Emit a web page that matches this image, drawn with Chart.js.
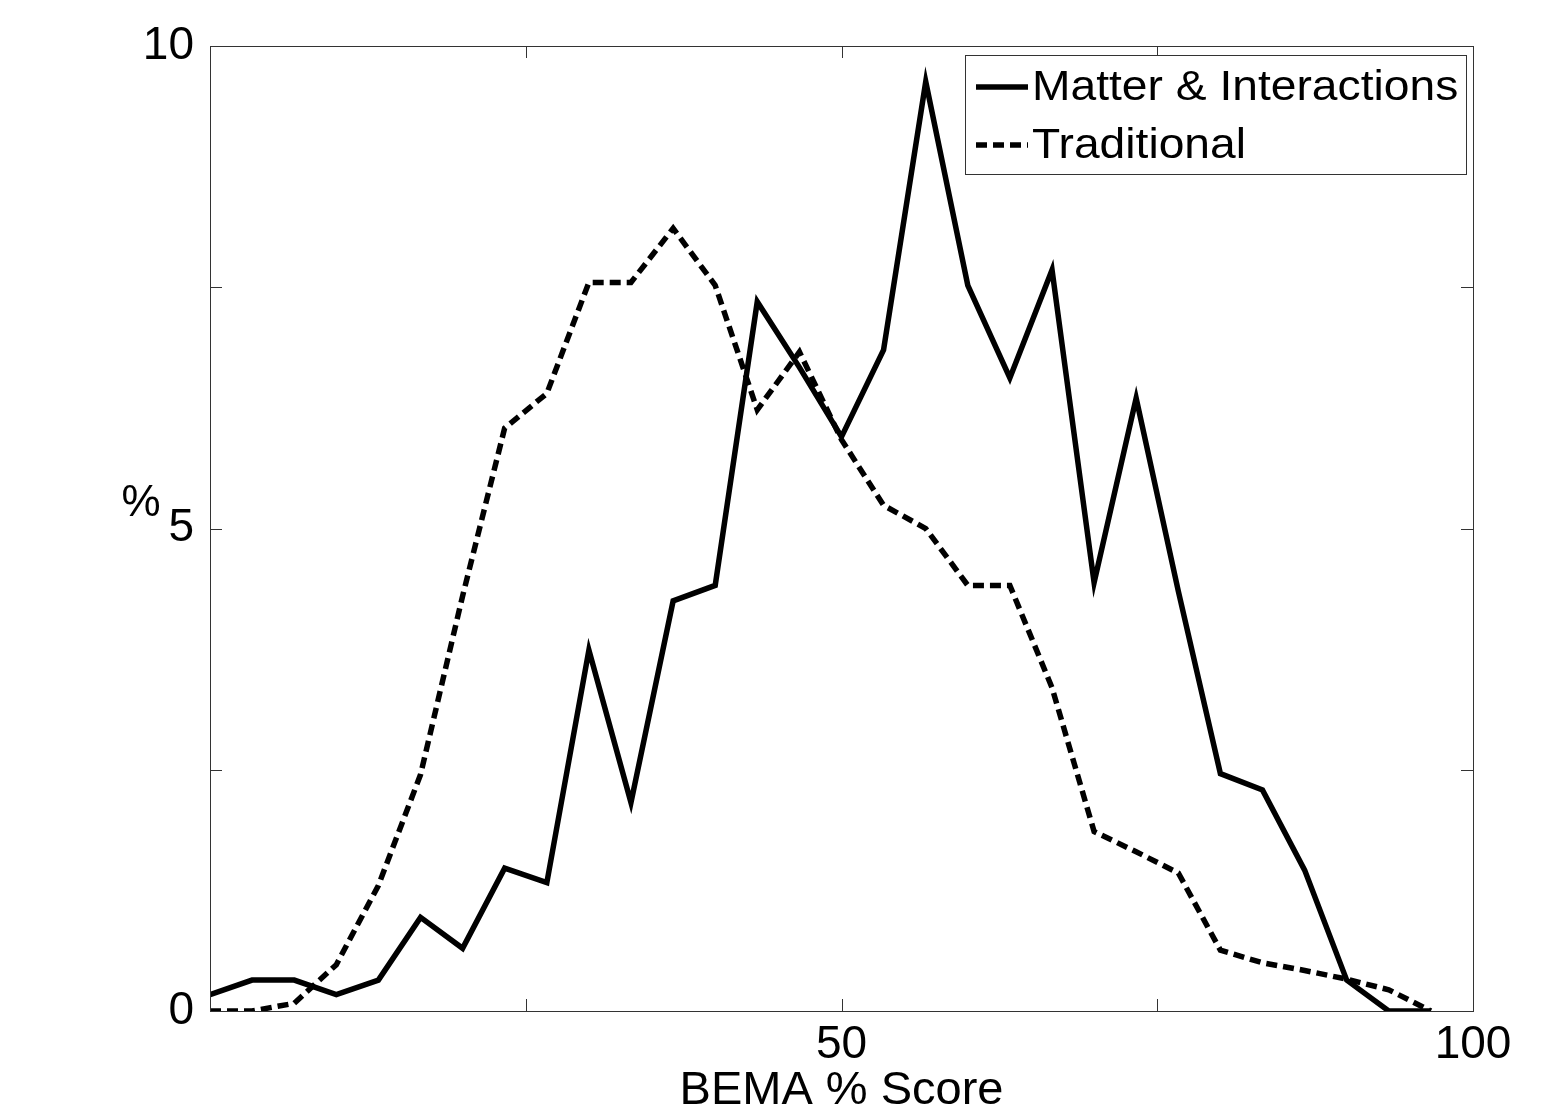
<!DOCTYPE html>
<html>
<head>
<meta charset="utf-8">
<script src="https://cdn.jsdelivr.net/npm/chart.js@4.4.1/dist/chart.umd.min.js"></script>
<style>
  html, body { margin: 0; padding: 0; background: #fff; }
  #wrap { width: 1567px; height: 1107px; }
</style>
</head>
<body>
<div id="wrap"><canvas id="c" width="1567" height="1107"></canvas></div>
<script>
// BEMA score bins (k/30 * 100)
const scores = [0, 3.33, 6.67, 10, 13.33, 16.67, 20, 23.33, 26.67, 30, 33.33, 36.67, 40, 43.33, 46.67,
  50, 53.33, 56.67, 60, 63.33, 66.67, 70, 73.33, 76.67, 80, 83.33, 86.67, 90, 93.33, 96.67];
const matter = [0.17, 0.32, 0.32, 0.17, 0.32, 0.97, 0.65, 1.48, 1.33, 3.74, 2.16, 4.25, 4.41, 7.35, 6.67,
  5.95, 6.85, 9.63, 7.52, 6.56, 7.68, 4.44, 6.35, 4.35, 2.46, 2.29, 1.46, 0.32, 0, 0];
const traditional = [0, 0, 0.08, 0.48, 1.3, 2.45, 4.3, 6.04, 6.4, 7.55, 7.55, 8.11, 7.52, 6.23, 6.83,
  5.92, 5.24, 5.0, 4.41, 4.41, 3.35, 1.86, 1.65, 1.43, 0.63, 0.5, 0.42, 0.33, 0.22, 0];
const seriesNames = ['Matter & Interactions', 'Traditional'];
const xLabelTicks = [50, 100];
const yLabelTicks = [0, 5, 10];

const FONT = '"Liberation Sans", Arial, sans-serif';
const pts = (ys) => scores.map((x, i) => ({ x, y: ys[i] }));

// marco tipo MATLAB: caja, ticks hacia dentro en los 4 lados, "%" y leyenda propia
const frame = {
  id: 'frame',
  afterDraw(chart) {
    const { ctx, chartArea: a, scales } = chart;
    const tl = 12;
    ctx.save();
    ctx.strokeStyle = '#333';
    ctx.lineWidth = 1;
    ctx.strokeRect(a.left + 0.5, a.top + 0.5, a.right - a.left, a.bottom - a.top);
    ctx.beginPath();
    scales.x.ticks.forEach(t => {
      const px = Math.round(scales.x.getPixelForValue(t.value)) + 0.5;
      ctx.moveTo(px, a.bottom); ctx.lineTo(px, a.bottom - tl);
      ctx.moveTo(px, a.top); ctx.lineTo(px, a.top + tl);
    });
    scales.y.ticks.forEach(t => {
      const py = Math.round(scales.y.getPixelForValue(t.value)) + 0.5;
      ctx.moveTo(a.left, py); ctx.lineTo(a.left + tl, py);
      ctx.moveTo(a.right, py); ctx.lineTo(a.right - tl, py);
    });
    ctx.stroke();

    // "%" y label, horizontal
    ctx.fillStyle = '#000';
    ctx.font = '44px ' + FONT;
    ctx.textAlign = 'center';
    ctx.textBaseline = 'middle';
    ctx.fillText('%', 141, 504);

    // legend
    const lx = 965, ly = 55, lw = 501, lh = 119;
    ctx.fillStyle = '#fff';
    ctx.fillRect(lx, ly, lw, lh);
    ctx.strokeStyle = '#333';
    ctx.strokeRect(lx + 0.5, ly + 0.5, lw, lh);
    const rows = [87, 145];
    chart.data.datasets.forEach((ds, i) => {
      const y = rows[i];
      ctx.strokeStyle = ds.borderColor;
      ctx.lineWidth = ds.borderWidth;
      ctx.setLineDash(ds.borderDash || []);
      ctx.beginPath();
      ctx.moveTo(976, y); ctx.lineTo(1028, y);
      ctx.stroke();
      ctx.setLineDash([]);
      // texto algo estirado en horizontal, como el original
      ctx.save();
      ctx.translate(1032, y + 1);
      ctx.scale(1.1, 1);
      ctx.fillStyle = '#000';
      ctx.font = '42px ' + FONT;
      ctx.textAlign = 'left';
      ctx.textBaseline = 'middle';
      ctx.fillText(ds.label, 0, 0);
      ctx.restore();
    });
    ctx.restore();
  }
};

new Chart(document.getElementById('c'), {
  type: 'line',
  data: {
    datasets: [
      { label: seriesNames[0], data: pts(matter), borderColor: '#000', borderWidth: 5.5,
        pointRadius: 0, tension: 0, fill: false },
      { label: seriesNames[1], data: pts(traditional), borderColor: '#000', borderWidth: 5.5,
        borderDash: [11, 6], pointRadius: 0, tension: 0, fill: false }
    ]
  },
  options: {
    responsive: false,
    animation: false,
    devicePixelRatio: 1,
    layout: { padding: { top: 46, right: 94, left: 0, bottom: 0 } },
    plugins: { legend: { display: false }, tooltip: { enabled: false } },
    scales: {
      x: {
        type: 'linear', min: 0, max: 100,
        afterFit(s) { s.height = 96; },
        grid: { display: false, drawTicks: false },
        border: { display: false },
        ticks: {
          stepSize: 25, padding: 7, color: '#000', maxRotation: 0, autoSkip: false,
          font: { family: FONT, size: 46 },
          callback: v => xLabelTicks.includes(v) ? String(v) : ''
        },
        title: { display: true, text: 'BEMA % Score', color: '#000',
          font: { family: FONT, size: 47, lineHeight: 1 }, padding: { top: 0, bottom: -8 } }
      },
      y: {
        min: 0, max: 10,
        afterFit(s) { s.width = 210; },
        grid: { display: false, drawTicks: false },
        border: { display: false },
        ticks: {
          stepSize: 2.5, padding: 16, color: '#000', autoSkip: false,
          font: { family: FONT, size: 46 },
          callback: v => yLabelTicks.includes(v) ? String(v) : ''
        }
      }
    }
  },
  plugins: [frame]
});
</script>
</body>
</html>
